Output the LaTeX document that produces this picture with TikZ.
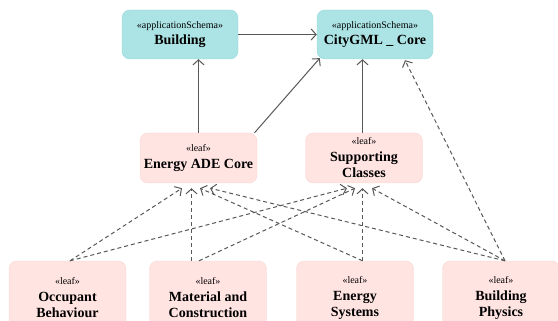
\documentclass[tikz,border=0pt]{standalone}
\usepackage{fontspec}
\setmainfont{Liberation Serif}
\usepackage{tikz}
\usetikzlibrary{arrows.meta,positioning,calc}
\definecolor{schteal}{RGB}{172,227,228}
\definecolor{schedge}{RGB}{150,216,218}
\definecolor{leafpink}{RGB}{255,228,226}
\definecolor{leafedge}{RGB}{250,212,208}
\definecolor{linegrey}{RGB}{88,88,88}
\newcommand{\stype}[1]{{\fontsize{10}{12}\selectfont\mdseries «#1»}}

\begin{document}
\begin{tikzpicture}[x=1pt, y=-1pt,
    font=\bfseries\fontsize{14}{16.5}\selectfont,
    s/.style={rectangle, draw=schedge, fill=schteal, rounded corners=8pt,
              minimum width=116pt, minimum height=49pt, align=center, inner sep=2pt},
    l/.style={rectangle, draw=leafedge, fill=leafpink, rounded corners=8pt,
              minimum width=117pt, minimum height=50pt, align=center, inner sep=2pt},
    dep/.style={draw=linegrey, line width=1pt, -{Straight Barb[length=5pt,width=11pt]}},
    use/.style={dep, dash pattern=on 4pt off 3pt}]
\useasboundingbox (0,0) rectangle (558,321);

% application schemas
\node[s] (bldg) at (180,34.5) {\stype{applicationSchema}\\Building};
\node[s] (core) at (375,34.5) {\stype{applicationSchema}\\CityGML \_ Core};

% leaf packages
\node[l] (eade) at (198.5,158) {\stype{leaf}\\Energy ADE Core};
\node[l] (supp) at (364,158) {\stype{leaf}\\Supporting\\Classes};

\node[l, minimum height=74pt] (occ) at (67.5,298) {\stype{leaf}\\Occupant\\Behaviour};
\node[l, minimum height=74pt] (mat) at (208,298) {\stype{leaf}\\Material and\\Construction};
\node[l, minimum height=74pt] (esys) at (355,298) {\stype{leaf}\\Energy\\Systems};
\node[l, minimum height=74pt] (phys) at (501,298) {\stype{leaf}\\Building\\Physics};

% solid dependencies
\draw[dep] (bldg) -- (core);
\draw[dep] (eade.north) -- (eade.north |- bldg.south);
\draw[dep] ($(eade.north)+(56,0)$) -- ($(core.south west)+(3,-1)$);
\draw[dep] ($(supp.north)+(-1.5,0)$) -- ($(supp.north |- core.south)+(-1.5,0)$);

% dashed dependencies
\draw[use] ($(occ.north)+(2.5,0)$) -- ($(eade.south)+(-16.5,5)$);
\draw[use] ($(occ.north)+(2.5,0)$) -- ($(supp.south)+(-17,5)$);
\draw[use] ($(mat.north)+(-16.5,0)$) -- ($(eade.south)+(-7,5)$);
\draw[use] ($(mat.north)+(-9,0)$) -- ($(supp.south)+(-9,5)$);
\draw[use] ($(esys.north)+(7.5,0)$) -- ($(eade.south)+(1.5,5)$);
\draw[use] ($(esys.north)+(7.5,0)$) -- ($(supp.south)+(-1.5,5)$);
\draw[use] ($(phys.north)+(4,0)$) -- ($(eade.south)+(11.5,5)$);
\draw[use] ($(phys.north)+(4,0)$) -- ($(supp.south)+(8,5)$);
\draw[use] ($(phys.north)+(4,0)$) -- ($(core.south)+(30,1)$);
\end{tikzpicture}
\end{document}
